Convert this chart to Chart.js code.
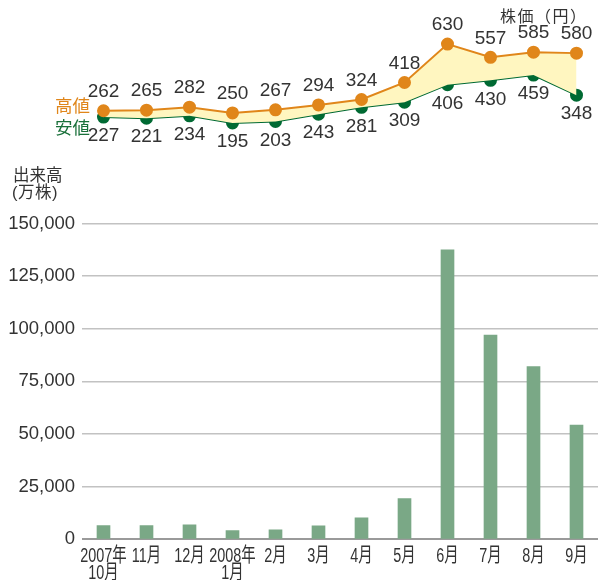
<!DOCTYPE html>
<html>
<head>
<meta charset="utf-8">
<script src="https://cdn.jsdelivr.net/npm/chart.js@4"></script>
<style>
  html, body { margin: 0; padding: 0; background: #fff; }
  #wrap { position: relative; width: 598px; height: 580px; overflow: hidden;
          font-family: "Liberation Sans", "Noto Sans CJK JP", sans-serif; color: #333; }
  canvas { position: absolute; left: 0; top: 0; }
  .note { position: absolute; white-space: nowrap; line-height: 1; }
</style>
</head>
<body>
<div id="wrap">
  <canvas id="volume-chart" width="598" height="580"></canvas>
  <canvas id="price-chart" width="598" height="160"></canvas>
  <div class="note" style="left:500px;top:9px;font-size:16px;letter-spacing:1.5px;">株価（円）</div>
  <div class="note" style="left:55px;top:98px;font-size:17.5px;color:#e0861a;">高値</div>
  <div class="note" style="left:55px;top:120px;font-size:17.5px;color:#19703a;">安値</div>
  <div class="note" style="left:13px;top:167px;font-size:16.5px;">出来高</div>
  <div class="note" style="left:12px;top:184px;font-size:16.5px;letter-spacing:0.5px;">(万株)</div>
</div>
<script>
const months = [['2007年', '10月'], '11月', '12月', ['2008年', '1月'], '2月', '3月', '4月', '5月', '6月', '7月', '8月', '9月'];
const highPrices = [262, 265, 282, 250, 267, 294, 324, 418, 630, 557, 585, 580];
const lowPrices = [227, 221, 234, 195, 203, 243, 281, 309, 406, 430, 459, 348];
const volumes = [6500, 6500, 6900, 4100, 4500, 6400, 10200, 19300, 137500, 97000, 82000, 54300];
const volumeTicks = [0, 25000, 50000, 75000, 100000, 125000, 150000];

const FONT = '"Liberation Sans", "Noto Sans CJK JP", sans-serif';
Chart.defaults.font.family = FONT;
Chart.defaults.color = '#333';

// value labels above the high line and below the low line
const priceLabels = {
    id: 'priceLabels',
    afterDatasetsDraw(chart) {
        const ctx = chart.ctx;
        ctx.save();
        ctx.font = '19px ' + FONT;
        ctx.fillStyle = '#333';
        ctx.textAlign = 'center';
        ctx.textBaseline = 'middle';
        chart.data.datasets.forEach((ds, i) => {
            const offset = i === 0 ? -19 : 19;
            chart.getDatasetMeta(i).data.forEach((pt, j) => {
                ctx.fillText(String(ds.data[j]), pt.x, pt.y + offset);
            });
        });
        ctx.restore();
    }
};

new Chart(document.getElementById('price-chart').getContext('2d'), {
    type: 'line',
    data: {
        labels: months,
        datasets: [
            {
                label: '高値',
                data: highPrices,
                borderColor: '#e0861a',
                borderWidth: 2,
                backgroundColor: '#fff6c0',
                pointBackgroundColor: '#e0861a',
                pointBorderColor: '#e0861a',
                pointRadius: 5.5,
                fill: '+1',
                tension: 0,
            },
            {
                label: '安値',
                data: lowPrices,
                borderColor: '#006a33',
                borderWidth: 2,
                pointBackgroundColor: '#006a33',
                pointBorderColor: '#006a33',
                pointRadius: 5.5,
                fill: false,
                tension: 0,
            },
        ],
    },
    options: {
        responsive: false,
        animation: false,
        layout: { autoPadding: false, padding: { left: 82, right: 0, top: 13.25, bottom: 1.75 } },
        plugins: { legend: { display: false }, tooltip: { enabled: false } },
        scales: {
            x: { display: false, offset: true },
            y: { display: false, min: 0, max: 800 },
        },
    },
    plugins: [priceLabels],
});

// month labels drawn in a condensed face under the bars
const monthLabels = {
    id: 'monthLabels',
    afterDraw(chart) {
        const ctx = chart.ctx;
        const xScale = chart.scales.x;
        const top = chart.chartArea.bottom;
        ctx.save();
        ctx.font = '20px ' + FONT;
        ctx.fillStyle = '#333';
        ctx.textAlign = 'center';
        ctx.textBaseline = 'middle';
        months.forEach((label, i) => {
            const lines = Array.isArray(label) ? label : [label];
            const x = xScale.getPixelForTick(i);
            lines.forEach((line, k) => {
                ctx.save();
                ctx.translate(x, top + 17 + k * 17);
                ctx.scale(0.72, 1);
                ctx.fillText(line, 0, 0);
                ctx.restore();
            });
        });
        ctx.restore();
    }
};

new Chart(document.getElementById('volume-chart').getContext('2d'), {
    type: 'bar',
    data: {
        labels: months,
        datasets: [
            {
                label: '出来高',
                data: volumes,
                backgroundColor: '#7aa886',
                barThickness: 13,
            },
        ],
    },
    options: {
        responsive: false,
        animation: false,
        layout: { padding: { left: 0, right: 0, top: 223.5, bottom: 0 } },
        plugins: { legend: { display: false }, tooltip: { enabled: false } },
        scales: {
            x: {
                offset: true,
                grid: { display: false },
                border: { display: false },
                ticks: { display: false },
                afterFit(scale) { scale.height = 40.7; },
            },
            y: {
                min: volumeTicks[0],
                max: volumeTicks[volumeTicks.length - 1],
                afterBuildTicks(scale) { scale.ticks = volumeTicks.map(v => ({ value: v })); },
                afterFit(scale) { scale.width = 82; },
                border: { display: false },
                grid: {
                    drawTicks: false,
                    color: ctx => ctx.tick && ctx.tick.value === 0 ? '#9a9a9a' : '#c2c2c2',
                    lineWidth: ctx => ctx.tick && ctx.tick.value === 0 ? 2 : 1.5,
                },
                ticks: {
                    padding: 7,
                    font: { size: 18.5 },
                    color: '#333',
                    callback: v => v.toLocaleString('en-US'),
                },
            },
        },
    },
    plugins: [monthLabels],
});
</script>
</body>
</html>
